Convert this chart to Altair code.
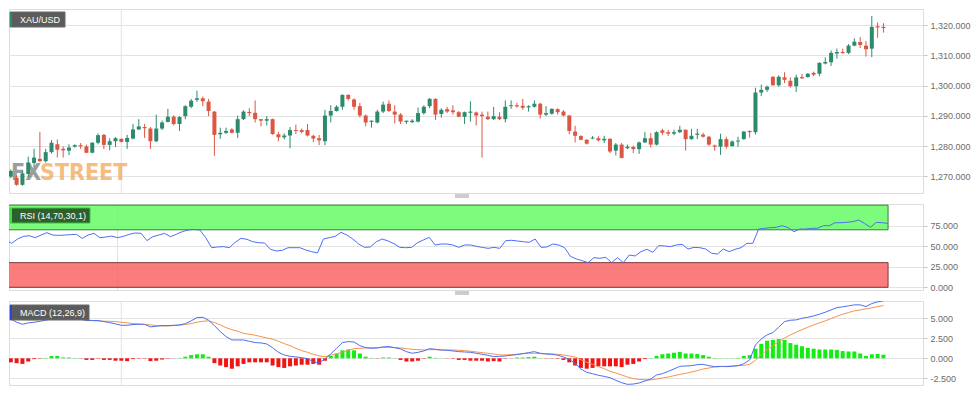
import altair as alt
import pandas as pd

# ---------------- data ----------------
idx = list(range(-1, 150))

opens = [1269.9, 1269.5, 1267.2, 1270.8, 1274.4, 1275.8, 1275.0, 1278.0, 1280.6, 1279.1,
         1278.5, 1279.8, 1280.3, 1279.9, 1277.8, 1281.1, 1283.7, 1280.4, 1281.6, 1282.4,
         1281.4, 1282.5, 1285.5, 1286.3, 1285.8, 1281.6, 1285.8, 1288.0, 1289.7, 1287.3,
         1289.9, 1293.0, 1295.3, 1295.8, 1294.7, 1291.4, 1283.9, 1284.4, 1285.5, 1284.4,
         1288.9, 1291.3, 1291.0, 1288.9, 1288.4, 1288.9, 1283.9, 1282.9, 1283.5, 1285.3,
         1285.3, 1285.3, 1283.4, 1282.6, 1281.6, 1290.1, 1291.6, 1293.0, 1296.9, 1295.4,
         1293.2, 1290.1, 1288.0, 1287.8, 1291.4, 1294.0, 1291.4, 1290.4, 1288.0, 1287.9,
         1288.1, 1290.9, 1293.2, 1295.6, 1290.6, 1292.2, 1291.8, 1291.2, 1289.7, 1291.0,
         1291.1, 1290.4, 1289.7, 1288.9, 1289.7, 1288.9, 1293.2, 1293.5, 1293.3, 1292.8,
         1293.0, 1294.0, 1290.4, 1290.7, 1292.2, 1291.4, 1290.1, 1284.8, 1283.3, 1282.1,
         1282.5, 1282.6, 1281.9, 1282.4, 1278.5, 1280.5, 1279.3, 1279.7, 1279.0, 1281.2,
         1282.6, 1280.5, 1285.2, 1284.6, 1284.1, 1284.6, 1285.4, 1282.3, 1283.7, 1283.8,
         1283.1, 1280.2, 1279.8, 1282.3, 1280.0, 1281.5, 1282.3, 1285.0, 1284.6, 1297.7,
         1298.6, 1302.9, 1300.1, 1302.7, 1301.6, 1299.8, 1302.8, 1302.8, 1304.2, 1303.9,
         1307.3, 1307.7, 1310.6, 1311.1, 1310.8, 1313.2, 1314.4, 1313.2, 1312.2, 1319.6, 1319.4]

highs = [1272.3, 1270.3, 1271.9, 1276.5, 1279.1, 1284.7, 1279.1, 1282.0, 1282.2, 1279.9,
         1280.6, 1280.6, 1281.0, 1280.5, 1281.3, 1284.2, 1284.0, 1282.6, 1283.0, 1282.5,
         1283.7, 1287.3, 1288.9, 1287.3, 1286.3, 1290.4, 1288.4, 1292.3, 1290.2, 1289.9,
         1293.5, 1295.6, 1298.3, 1296.4, 1295.6, 1291.6, 1286.1, 1286.1, 1285.9, 1290.1,
         1291.8, 1292.5, 1295.1, 1288.9, 1289.9, 1289.1, 1284.7, 1284.2, 1286.3, 1287.1,
         1285.8, 1287.3, 1283.7, 1283.7, 1292.0, 1293.5, 1293.5, 1297.1, 1297.1, 1295.8,
         1294.3, 1290.4, 1288.4, 1292.0, 1294.7, 1295.1, 1293.5, 1290.9, 1288.4, 1288.9,
         1292.7, 1293.5, 1295.9, 1295.8, 1292.5, 1293.0, 1293.5, 1291.6, 1291.4, 1294.8,
         1291.4, 1291.4, 1291.4, 1293.0, 1291.2, 1295.1, 1295.1, 1294.3, 1295.6, 1293.5,
         1295.1, 1294.3, 1293.2, 1292.5, 1292.5, 1291.9, 1290.3, 1286.7, 1283.6, 1282.3,
         1283.3, 1283.3, 1283.4, 1282.6, 1281.0, 1281.0, 1280.5, 1280.2, 1281.5, 1284.6,
         1284.3, 1284.9, 1285.7, 1285.4, 1285.4, 1286.7, 1285.5, 1285.7, 1285.7, 1284.4,
         1283.3, 1280.5, 1284.1, 1283.1, 1281.9, 1283.1, 1285.0, 1285.2, 1299.3, 1300.3,
         1300.0, 1303.1, 1303.4, 1304.4, 1302.7, 1303.6, 1303.9, 1304.1, 1304.6, 1307.7,
         1309.3, 1311.6, 1312.2, 1312.2, 1313.7, 1315.6, 1316.0, 1314.7, 1323.0, 1320.9, 1320.6]

lows = [1269.4, 1266.9, 1266.9, 1269.8, 1272.9, 1274.7, 1274.6, 1277.5, 1276.2, 1276.2,
        1277.0, 1279.5, 1279.1, 1277.7, 1277.6, 1280.6, 1279.0, 1278.6, 1279.7, 1281.2,
        1279.1, 1282.2, 1285.3, 1282.7, 1279.1, 1281.3, 1285.3, 1287.8, 1286.8, 1285.0,
        1288.9, 1292.5, 1294.6, 1293.2, 1289.9, 1276.8, 1282.4, 1284.0, 1284.2, 1282.7,
        1288.6, 1289.9, 1287.8, 1286.5, 1286.8, 1283.7, 1281.6, 1282.2, 1279.3, 1284.0,
        1284.2, 1283.2, 1281.3, 1280.3, 1280.3, 1287.8, 1291.4, 1292.0, 1295.1, 1292.0,
        1289.4, 1286.5, 1286.1, 1287.5, 1290.9, 1291.2, 1287.5, 1287.3, 1287.3, 1287.6,
        1287.8, 1290.4, 1292.5, 1288.6, 1289.4, 1290.9, 1290.4, 1289.6, 1287.3, 1288.1,
        1286.8, 1276.2, 1288.6, 1288.6, 1288.6, 1287.8, 1292.3, 1292.7, 1292.0, 1291.4,
        1292.7, 1289.1, 1289.9, 1290.4, 1290.4, 1289.8, 1283.9, 1281.2, 1281.9, 1280.5,
        1282.3, 1281.5, 1281.0, 1277.7, 1276.9, 1275.9, 1279.0, 1277.7, 1277.4, 1281.0,
        1279.5, 1280.2, 1283.6, 1283.3, 1283.6, 1284.3, 1278.5, 1282.1, 1282.3, 1282.8,
        1280.0, 1278.5, 1277.1, 1279.2, 1279.8, 1279.8, 1282.1, 1282.8, 1283.8, 1296.5,
        1297.9, 1300.0, 1299.6, 1300.8, 1299.3, 1297.9, 1302.2, 1302.6, 1303.1, 1303.1,
        1307.0, 1306.5, 1308.9, 1310.6, 1310.4, 1313.0, 1312.4, 1309.6, 1309.4, 1315.8, 1317.5]

closes = [1271.8, 1267.2, 1271.0, 1274.6, 1276.2, 1275.0, 1278.0, 1281.1, 1278.8, 1278.6,
          1279.5, 1280.3, 1279.9, 1277.8, 1281.1, 1283.6, 1280.4, 1281.6, 1282.6, 1281.4,
          1282.7, 1285.5, 1286.5, 1285.9, 1281.6, 1285.8, 1287.8, 1289.7, 1287.3, 1289.6,
          1293.2, 1295.0, 1295.8, 1294.8, 1291.6, 1283.7, 1284.4, 1285.0, 1284.4, 1288.9,
          1291.4, 1290.9, 1288.9, 1288.4, 1288.9, 1284.0, 1282.9, 1283.5, 1285.3, 1285.0,
          1284.7, 1283.5, 1282.5, 1281.9, 1290.1, 1291.6, 1293.0, 1296.9, 1295.6, 1293.0,
          1290.1, 1287.8, 1288.4, 1291.4, 1293.7, 1291.6, 1290.4, 1288.1, 1288.4, 1288.4,
          1290.9, 1293.0, 1295.6, 1290.4, 1292.0, 1291.4, 1291.2, 1289.7, 1291.2, 1291.4,
          1290.1, 1289.9, 1288.9, 1289.9, 1288.9, 1293.0, 1293.5, 1293.1, 1292.7, 1293.2,
          1294.0, 1290.4, 1290.9, 1292.3, 1291.2, 1290.1, 1285.0, 1283.4, 1282.1, 1280.8,
          1282.8, 1281.9, 1282.4, 1278.2, 1280.5, 1276.1, 1279.8, 1279.0, 1281.2, 1282.6,
          1280.5, 1284.6, 1284.4, 1284.1, 1284.6, 1285.4, 1282.3, 1283.4, 1284.1, 1283.1,
          1280.5, 1279.8, 1282.3, 1279.8, 1281.5, 1281.8, 1284.8, 1284.6, 1297.7, 1298.6,
          1299.6, 1300.1, 1302.9, 1301.9, 1299.8, 1302.7, 1302.4, 1303.9, 1303.6, 1307.5,
          1307.8, 1310.8, 1311.1, 1310.7, 1313.2, 1314.5, 1313.4, 1312.0, 1319.4, 1319.2, 1319.0]

rsi = [57.6, 53.5, 58.8, 62.0, 62.8, 60.4, 63.6, 66.5, 63.6, 63.2,
       63.6, 64.1, 64.5, 59.6, 63.6, 65.7, 60.4, 61.2, 62.4, 60.4,
       62.0, 64.5, 66.1, 65.7, 56.8, 61.6, 63.6, 65.7, 61.6, 64.5,
       67.7, 69.7, 70.5, 69.7, 60.4, 48.2, 49.1, 49.5, 48.2, 54.7,
       59.6, 58.4, 55.5, 54.3, 53.9, 46.2, 44.2, 45.0, 48.2, 48.2,
       48.2, 45.4, 43.4, 41.8, 58.8, 60.4, 62.0, 66.9, 63.6, 58.8,
       52.7, 48.6, 49.1, 55.5, 58.8, 56.4, 53.1, 48.6, 48.2, 48.6,
       54.3, 57.6, 60.8, 51.5, 52.7, 52.7, 51.5, 48.6, 51.5, 51.5,
       49.9, 48.6, 47.4, 48.6, 47.4, 56.8, 57.2, 56.4, 55.5, 54.7,
       58.8, 48.6, 49.1, 52.7, 51.5, 48.2, 37.7, 34.5, 32.4, 30.0,
       36.1, 35.3, 36.5, 30.0, 36.1, 30.0, 39.3, 38.1, 43.4, 46.2,
       42.6, 50.7, 50.3, 49.5, 51.5, 52.3, 46.6, 48.6, 48.2, 46.6,
       41.4, 40.5, 46.6, 43.4, 46.2, 48.2, 53.5, 53.5, 70.9, 71.8,
       72.6, 73.0, 75.0, 72.6, 67.7, 70.9, 70.9, 71.8, 71.8, 75.0,
       75.0, 78.6, 78.6, 79.1, 79.9, 81.9, 77.8, 73.0, 79.1, 78.6, 77.8]

macd = [4.92, 4.5, 4.25, 4.42, 4.5, 4.62, 4.75, 4.96, 5.08, 5.08,
        5.08, 5.0, 4.88, 4.71, 4.71, 4.71, 4.58, 4.46, 4.29, 4.12,
        4.12, 4.21, 4.25, 4.25, 3.92, 4.0, 4.08, 4.08, 4.12, 4.17,
        4.33, 4.67, 5.08, 5.12, 4.75, 4.08, 3.33, 2.71, 2.29, 2.29,
        2.29, 2.12, 1.96, 1.92, 1.79, 1.33, 0.75, 0.42, 0.25, 0.17,
        0.08, -0.04, -0.42, -0.58, -0.08, 0.54, 1.25, 1.96, 2.08, 2.04,
        1.58, 1.33, 1.25, 1.29, 1.42, 1.46, 1.33, 1.17, 0.83, 0.63,
        0.75, 0.92, 1.21, 1.12, 1.04, 1.0, 0.92, 0.83, 0.79, 0.75,
        0.63, 0.5, 0.38, 0.21, 0.25, 0.29, 0.38, 0.46, 0.58, 0.71,
        0.83, 0.63, 0.54, 0.5, 0.38, 0.17, -0.13, -0.63, -1.33, -1.75,
        -1.92, -2.12, -2.25, -2.42, -2.75, -3.04, -3.25, -3.21, -3.08, -2.83,
        -2.58, -2.08, -1.92, -1.63, -1.33, -1.0, -0.96, -0.92, -0.79, -0.75,
        -0.92, -1.04, -1.0, -1.04, -1.0, -0.92, -0.67, -0.21, 1.67, 2.42,
        2.92, 3.21, 3.88, 4.58, 4.75, 4.79, 5.0, 5.12, 5.29, 5.5,
        5.75, 6.04, 6.33, 6.42, 6.54, 6.67, 6.67, 6.46, 6.83, 7.04, 7.17]

signal = [5.08, 4.92, 4.83, 4.79, 4.79, 4.83, 4.88, 4.92, 4.96, 5.0,
          4.96, 4.92, 4.88, 4.79, 4.71, 4.67, 4.62, 4.62, 4.58, 4.5,
          4.42, 4.33, 4.29, 4.21, 4.17, 4.08, 4.04, 4.04, 4.08, 4.12,
          4.21, 4.33, 4.5, 4.62, 4.67, 4.46, 4.17, 3.83, 3.58, 3.38,
          3.12, 3.0, 2.88, 2.71, 2.54, 2.38, 2.12, 1.83, 1.58, 1.25,
          0.96, 0.75, 0.5, 0.29, 0.21, 0.38, 0.54, 0.79, 1.0, 1.21,
          1.25, 1.29, 1.33, 1.33, 1.37, 1.37, 1.33, 1.29, 1.21, 1.12,
          1.08, 1.04, 1.08, 1.08, 1.04, 1.04, 1.04, 1.0, 0.96, 0.88,
          0.79, 0.71, 0.63, 0.54, 0.42, 0.42, 0.46, 0.5, 0.58, 0.63,
          0.63, 0.58, 0.58, 0.54, 0.5, 0.42, 0.29, 0.17, -0.17, -0.5,
          -0.75, -1.04, -1.29, -1.63, -1.83, -2.08, -2.33, -2.54, -2.63, -2.67,
          -2.71, -2.58, -2.46, -2.33, -2.17, -2.0, -1.88, -1.71, -1.54, -1.33,
          -1.21, -1.08, -1.04, -1.0, -0.96, -0.92, -0.88, -0.75, -0.25, 0.42,
          1.08, 1.58, 2.08, 2.54, 2.92, 3.25, 3.58, 3.88, 4.17, 4.42,
          4.67, 4.96, 5.25, 5.5, 5.71, 5.92, 6.04, 6.17, 6.29, 6.46, 6.58]

hist = [-0.5, -0.6, -0.7, -0.4, -0.1, -0.05, 0.05, 0.3, 0.3, 0.1,
        0.1, 0.05, -0.03, -0.2, -0.2, -0.05, -0.2, -0.2, -0.3, -0.3,
        -0.35, -0.1, -0.05, -0.05, -0.35, -0.3, -0.15, -0.05, -0.02, 0.05,
        0.2, 0.4, 0.5, 0.5, 0.2, -0.6, -0.9, -1.1, -1.3, -1.0,
        -0.7, -0.5, -0.5, -0.5, -0.5, -0.9, -1.1, -1.2, -1.0, -0.9,
        -0.8, -0.8, -0.7, -0.8, -0.3, 0.3, 0.6, 1.0, 1.1, 1.0,
        0.6, 0.2, 0.05, -0.03, 0.1, 0.1, 0.03, -0.2, -0.4, -0.4,
        -0.3, -0.05, 0.2, 0.05, 0.02, -0.03, -0.05, -0.2, -0.2, -0.3,
        -0.3, -0.3, -0.4, -0.35, -0.4, -0.05, -0.02, 0.1, 0.1, 0.15,
        0.2, 0.03, -0.03, -0.03, -0.05, -0.2, -0.5, -0.9, -1.2, -1.3,
        -1.2, -1.0, -1.0, -1.0, -1.0, -1.1, -0.8, -0.7, -0.4, -0.1,
        0.03, 0.3, 0.5, 0.6, 0.7, 0.8, 0.6, 0.6, 0.55, 0.4,
        0.2, 0.05, 0.03, 0.02, 0.03, 0.05, 0.3, 0.4, 1.2, 1.8,
        2.2, 2.3, 2.4, 2.3, 1.9, 1.7, 1.5, 1.3, 1.2, 1.1,
        1.1, 1.1, 1.05, 0.9, 0.85, 0.85, 0.6, 0.3, 0.5, 0.55, 0.45]

price_ticks = [1270, 1280, 1290, 1300, 1310, 1320]
rsi_ticks = [0, 25, 50, 75]
macd_ticks = [-2.5, 0, 2.5, 5]
date_pos = [0, 5, 11, 18, 25, 31, 37, 44, 50, 56, 62, 68, 75, 81, 87, 93, 99,
            106, 112, 118, 124, 130, 137, 143, 149]
date_lbl = ["Dec", "28", "30", "Jan", "3", "4", "6", "8", "9", "10", "11", "13",
            "15", "16", "17", "18", "20", "22", "23", "24", "25", "27", "29", "30", "31"]
month_start = [18]
band_lo = [70, 0]
band_hi = [100, 30]
band_zone = ["over", "under"]

# ---------------- tables ----------------
df = pd.DataFrame({"i": idx, "open": opens, "high": highs, "low": lows, "close": closes,
                   "rsi": rsi, "macd": macd, "signal": signal, "hist": hist})
df["dir"] = ["up" if c >= o else "down" for o, c in zip(opens, closes)]
df["hdir"] = ["pos" if h >= 0 else "neg" for h in hist]
bands = pd.DataFrame({"lo": band_lo, "hi": band_hi, "zone": band_zone,
                      "x0": [idx[0]] * 2, "x1": [idx[-1]] * 2})
months = pd.DataFrame({"i": month_start})

W = 914
H1, H2, H3 = 184, 86, 84
GREEN, RED = "#2c8a6d", "#dc5743"
FONT = "Liberation Sans"

xs = alt.Scale(domain=[-0.45, 154.94], nice=False, zero=False)
x_none = alt.X("i:Q", scale=xs, axis=None)

def month_rule():
    return alt.Chart(months).mark_rule(color="#e2e2e2", strokeWidth=1).encode(x=x_none)

def badge(text, x1, x2, y1, y2, fill, strip, stroke=None):
    d = pd.DataFrame({"t": [text]})
    box = alt.Chart(d).mark_rect(fill=fill, stroke=stroke or fill, strokeWidth=1).encode(
        x=alt.value(x1), x2=alt.value(x2), y=alt.value(y1), y2=alt.value(y2))
    st = alt.Chart(d).mark_rect(fill=strip).encode(
        x=alt.value(x1), x2=alt.value(x1 + 2), y=alt.value(y1), y2=alt.value(y2))
    tx = alt.Chart(d).mark_text(align="left", baseline="middle", color="white",
                                fontSize=9, font=FONT).encode(
        x=alt.value(x1 + 10), y=alt.value((y1 + y2) / 2 + 0.5), text="t:N")
    return box + st + tx

def handle(y):
    d = pd.DataFrame({"k": [0]})
    a = alt.Chart(d).mark_rule(color="#9a9a9a", strokeWidth=1).encode(
        x=alt.value(446), x2=alt.value(460), y=alt.value(y))
    b = alt.Chart(d).mark_rule(color="#9a9a9a", strokeWidth=1).encode(
        x=alt.value(446), x2=alt.value(460), y=alt.value(y + 2))
    return a + b

color_c = alt.Color("dir:N", scale=alt.Scale(domain=["up", "down"], range=[GREEN, RED]), legend=None)

# ---------------- main price panel ----------------
ys_p = alt.Scale(domain=[1264.5, 1325.3], nice=False, zero=False)
ax_p = alt.Axis(orient="right", values=price_ticks, format=",.3f", title=None,
                labelFontSize=9, labelColor="#6b6b6b", tickSize=4, tickColor="#c8c8c8",
                domain=False, gridColor="#e3e3e3", labelPadding=3)

WM_FONT = "Liberation Sans Narrow, DejaVu Sans Condensed, sans-serif"
wm = pd.DataFrame({"a": ["FX"], "b": ["STREET"]})
wm_fx = alt.Chart(wm).mark_text(align="left", baseline="alphabetic", fontSize=23, fontWeight="bold",
                                font=WM_FONT, color="#7d7d7d", opacity=0.75).encode(
    x=alt.value(2), y=alt.value(171), text="a:N")
wm_st = alt.Chart(wm).mark_text(align="left", baseline="alphabetic", fontSize=23, fontWeight="bold",
                                font=WM_FONT, color="#f2a24a", opacity=0.7).encode(
    x=alt.value(31), y=alt.value(171), text="b:N")

wicks = alt.Chart(df).mark_rule(strokeWidth=1, clip=True).encode(
    x=x_none, y=alt.Y("low:Q", scale=ys_p, axis=ax_p), y2="high:Q", color=color_c)
bodies = alt.Chart(df).mark_bar(width=4, clip=True).encode(
    x=x_none, y=alt.Y("open:Q", scale=ys_p, axis=ax_p), y2="close:Q", color=color_c)

main = alt.layer(month_rule(), wm_fx, wm_st, wicks, bodies,
                 badge("XAU/USD", 1, 56, 3, 18, "#5b5b5b", "#2c8a6d", "#6a6a6a"),
                 handle(H1 + 2)).properties(width=W, height=H1)

# ---------------- RSI panel ----------------
ys_r = alt.Scale(domain=[-3.3, 101.4], nice=False, zero=False)
ax_r = alt.Axis(orient="right", values=rsi_ticks, format=".3f", title=None,
                labelFontSize=9, labelColor="#6b6b6b", tickSize=4, tickColor="#c8c8c8",
                domain=False, gridColor="#e3e3e3", labelPadding=3)
band_rect = alt.Chart(bands).mark_rect(opacity=0.88, strokeWidth=1, clip=True).encode(
    x=alt.X("x0:Q", scale=xs, axis=None), x2="x1:Q",
    y=alt.Y("lo:Q", scale=ys_r, axis=ax_r), y2="hi:Q",
    fill=alt.Fill("zone:N", scale=alt.Scale(domain=["over", "under"], range=["#6cfb6c", "#fb6a6a"]), legend=None),
    stroke=alt.Stroke("zone:N", scale=alt.Scale(domain=["over", "under"], range=["#1f6a1f", "#6e1f1f"]), legend=None))
rsi_line = alt.Chart(df).mark_line(color="#4d6ef5", strokeWidth=1, clip=True).encode(
    x=x_none, y=alt.Y("rsi:Q", scale=ys_r, axis=ax_r))
rsi_panel = alt.layer(month_rule(), band_rect, rsi_line,
                      badge("RSI (14,70,30,1)", 1, 81, 4, 19, "#2f5f2f", "#3ee03e", "#3ec43e"),
                      handle(H2 + 2)).properties(width=W, height=H2)

# ---------------- MACD panel ----------------
ys_m = alt.Scale(domain=[-3.33, 7.15], nice=False, zero=False)
ax_m = alt.Axis(orient="right", values=macd_ticks, title=None,
                labelExpr="datum.value < 0 ? '-' + format(-datum.value, '.3f') : format(datum.value, '.3f')",
                labelFontSize=9, labelColor="#6b6b6b", tickSize=4, tickColor="#c8c8c8",
                domain=False, gridColor="#e3e3e3", labelPadding=3)
lbl_expr = ("[" + ",".join("'%s'" % s for s in date_lbl) + "][indexof(["
            + ",".join(str(p) for p in date_pos) + "], datum.value)]")
ax_x = alt.Axis(values=date_pos, labelExpr=lbl_expr, title=None, grid=False, domain=False,
                labelFontSize=9, labelColor="#6b6b6b", tickSize=4, tickColor="#c8c8c8",
                labelFlush=False, labelOverlap=False, labelPadding=2)
x_m = alt.X("i:Q", scale=xs, axis=ax_x)

hbars = alt.Chart(df).mark_bar(width=4, clip=True).encode(
    x=x_m, y=alt.Y("hist:Q", scale=ys_m, axis=ax_m), y2=alt.datum(0),
    color=alt.Color("hdir:N", scale=alt.Scale(domain=["pos", "neg"], range=["#12ee12", "#f21414"]), legend=None))
signal_line = alt.Chart(df).mark_line(strokeWidth=1, clip=True, color="#f39450").encode(
    x=x_m, y=alt.Y("signal:Q", scale=ys_m, axis=ax_m))
macd_line = alt.Chart(df).mark_line(strokeWidth=1, clip=True, color="#4d6ef5").encode(
    x=x_m, y=alt.Y("macd:Q", scale=ys_m, axis=ax_m))
macd_panel = alt.layer(month_rule(), hbars, signal_line, macd_line,
                       badge("MACD (12,26,9)", 1, 80, 4, 19, "#5b5b5b", "#2846d8", "#6a6a6a")
                       ).properties(width=W, height=H3)

chart = alt.vconcat(main, rsi_panel, macd_panel, spacing=5).resolve_scale(
    color="independent", fill="independent", stroke="independent"
).configure_view(stroke="#d9dde8", fill="#f6f6f6").configure(padding=0)

chart.save("out.html", embed_options={"renderer": "svg", "actions": False})
